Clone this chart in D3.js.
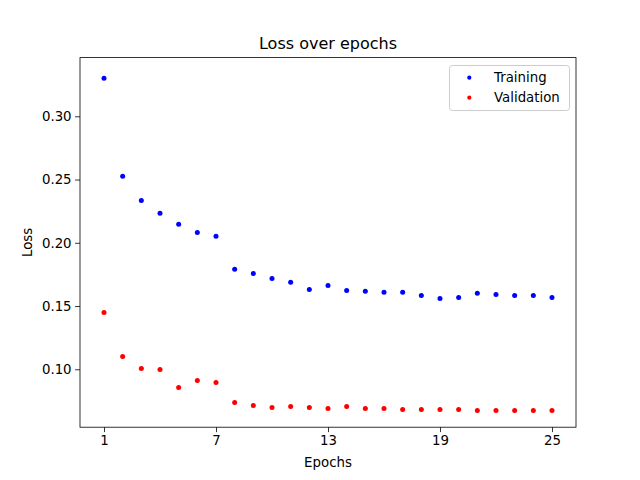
<!DOCTYPE html>
<html>
<head>
<meta charset="utf-8">
<script src="https://cdn.jsdelivr.net/npm/d3@7"></script>
<style>
  body { margin: 0; background: #fff; }
  text { font-family: "DejaVu Sans", sans-serif; fill: #000; }
</style>
</head>
<body>
<div class="main"></div>
<script>
//// Data
const epochs = d3.range(1, 26);
const training = [0.330, 0.2525, 0.2335, 0.2233, 0.2146, 0.2082, 0.2051, 0.1790, 0.1758, 0.1718,
  0.1687, 0.1631, 0.1663, 0.1623, 0.1616, 0.1608, 0.1608, 0.1584, 0.1560, 0.1568,
  0.1600, 0.1592, 0.1584, 0.1584, 0.1568];
const validation = [0.1449, 0.1101, 0.1006, 0.0998, 0.0856, 0.0911, 0.0896, 0.0737, 0.0714, 0.0698,
  0.0706, 0.0698, 0.0690, 0.0706, 0.0690, 0.0690, 0.0682, 0.0682, 0.0682, 0.0682,
  0.0674, 0.0674, 0.0674, 0.0674, 0.0674];
const xTicks = [1, 7, 13, 19, 25];
const yTicks = [0.10, 0.15, 0.20, 0.25, 0.30];
const seriesNames = ['Training', 'Validation'];
const seriesColors = ['blue', 'red'];

//// Layout
const width = 640;
const height = 480;
const plotL = 80, plotR = 576, plotT = 57.6, plotB = 427.2;

const svg = d3.select('.main').append('svg')
  .attr('width', width)
  .attr('height', height);

const x = d3.scaleLinear().domain([-0.286, 26.286]).range([plotL, plotR]);
const y = d3.scaleLinear().domain([0.0542, 0.3464]).range([plotB, plotT]);

// axes
const xAxis = svg.append('g')
  .attr('transform', `translate(0,${plotB})`)
  .call(d3.axisBottom(x).tickValues(xTicks).tickSize(4.9).tickPadding(3.5).tickFormat(d3.format('d')));
const yAxis = svg.append('g')
  .attr('transform', `translate(${plotL},0)`)
  .call(d3.axisLeft(y).tickValues(yTicks).tickSize(4.9).tickPadding(3.5).tickFormat(d3.format('.2f')));
[xAxis, yAxis].forEach(g => {
  g.select('.domain').remove();
  g.selectAll('line').attr('stroke', '#000').attr('stroke-width', 0.8);
  g.selectAll('text').attr('font-size', 13.33).attr('font-family', '"DejaVu Sans", sans-serif');
});

// frame
svg.append('rect')
  .attr('x', plotL).attr('y', plotT)
  .attr('width', plotR - plotL).attr('height', plotB - plotT)
  .attr('fill', 'none').attr('stroke', '#000').attr('stroke-width', 0.8);

// points
const series = [training, validation];
series.forEach((vals, si) => {
  svg.append('g')
    .selectAll('circle')
    .data(vals)
    .enter()
    .append('circle')
    .attr('cx', (_, i) => x(epochs[i]))
    .attr('cy', d => y(d))
    .attr('r', 2.5)
    .attr('fill', seriesColors[si]);
});

// labels
svg.append('text')
  .attr('x', (plotL + plotR) / 2).attr('y', 49)
  .attr('text-anchor', 'middle').attr('font-size', 16)
  .text('Loss over epochs');
svg.append('text')
  .attr('x', (plotL + plotR) / 2).attr('y', 467)
  .attr('text-anchor', 'middle').attr('font-size', 13.33)
  .text('Epochs');
svg.append('text')
  .attr('transform', `translate(32,${(plotT + plotB) / 2}) rotate(-90)`)
  .attr('text-anchor', 'middle').attr('font-size', 13.33)
  .text('Loss');

// legend
const legend = svg.append('g');
legend.append('rect')
  .attr('x', 449.5).attr('y', 65.5)
  .attr('width', 120).attr('height', 45)
  .attr('rx', 3)
  .attr('fill', '#fff').attr('fill-opacity', 0.8)
  .attr('stroke', '#ccc').attr('stroke-width', 1);
seriesNames.forEach((name, i) => {
  legend.append('circle')
    .attr('cx', 469.3).attr('cy', 77.7 + i * 20)
    .attr('r', 2.1)
    .attr('fill', seriesColors[i]);
  legend.append('text')
    .attr('x', 494).attr('y', 82.3 + i * 20)
    .attr('font-size', 13.33)
    .text(name);
});
</script>
</body>
</html>
